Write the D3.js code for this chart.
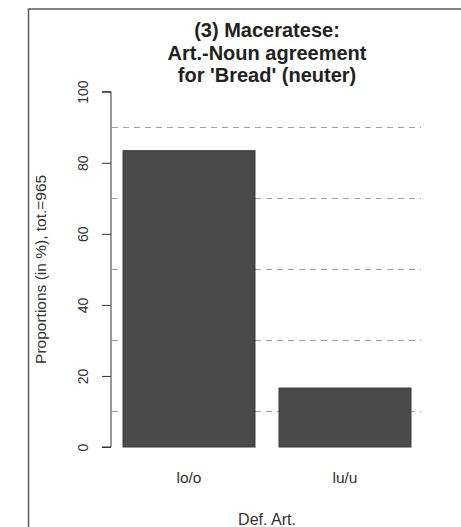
<!DOCTYPE html>
<html>
<head>
<meta charset="utf-8">
<script src="https://cdn.jsdelivr.net/npm/d3@7"></script>
<style>
  html, body { margin: 0; padding: 0; background: #fff; }
  svg { display: block; font-family: "Liberation Sans", Arial, sans-serif; }
</style>
</head>
<body>
<svg id="chart" width="461" height="527"></svg>
<script>
// Definite-article forms and their share (in %) of all 965 tokens
const categories = ["lo/o", "lu/u"];
const proportions = [83.4, 16.6];
const yTicks = [0, 20, 40, 60, 80, 100];
const gridValues = [10, 30, 50, 70, 90];
const titleLines = ["(3) Maceratese:", "Art.-Noun agreement", "for 'Bread' (neuter)"];
const yTitle = "Proportions (in %), tot.=965";
const xTitle = "Def. Art.";

const svg = d3.select("#chart");

// outer figure frame (open on the right and bottom)
svg.append("rect")
  .attr("x", 28.5).attr("y", 9)
  .attr("width", 460).attr("height", 540)
  .attr("fill", "none").attr("stroke", "#5a5a5a").attr("stroke-width", 1.5);

const x = d3.scaleBand()
  .domain(categories)
  .range([111, 423])
  .paddingInner(0.154)
  .paddingOuter(0.077);

const y = d3.scaleLinear().domain([0, 100]).range([447, 91.7]);

// dashed reference lines behind the bars
svg.append("g").selectAll("line")
  .data(gridValues).join("line")
  .attr("x1", 112).attr("x2", 421)
  .attr("y1", d => Math.round(y(d)) + 0.5).attr("y2", d => Math.round(y(d)) + 0.5)
  .attr("stroke", "#a0a0a0").attr("stroke-width", 1)
  .attr("stroke-dasharray", "6,5");

// bars
svg.append("g").selectAll("rect")
  .data(categories).join("rect")
  .attr("x", d => x(d))
  .attr("y", (d, i) => y(proportions[i]))
  .attr("width", x.bandwidth())
  .attr("height", (d, i) => y(0) - y(proportions[i]))
  .attr("fill", "#4a4a4a")
  .attr("stroke", "#3a3a3a").attr("stroke-width", 1);

// y axis
const yAxis = d3.axisLeft(y).tickValues(yTicks).tickSize(9).tickPadding(10);
const gy = svg.append("g").attr("transform", "translate(111,0)").call(yAxis);
gy.select(".domain").attr("stroke", "#333").attr("d", `M-9,${y(100)}H0V${y(0)}H-9`);
gy.selectAll(".tick line").attr("stroke", "#333");
gy.selectAll(".tick text")
  .attr("font-size", 14).attr("fill", "#333")
  .attr("text-anchor", "middle")
  .attr("x", null).attr("dy", null)
  .attr("transform", "translate(-23,0) rotate(-90)");

// category labels
svg.append("g").selectAll("text")
  .data(categories).join("text")
  .attr("x", d => x(d) + x.bandwidth() / 2)
  .attr("y", 483)
  .attr("text-anchor", "middle")
  .attr("font-size", 15.5).attr("fill", "#333")
  .text(d => d);

// axis titles
svg.append("text")
  .attr("transform", `translate(46,${(y(0) + y(100)) / 2}) rotate(-90)`)
  .attr("text-anchor", "middle")
  .attr("font-size", 15.5).attr("fill", "#333")
  .text(yTitle);

svg.append("text")
  .attr("x", 267).attr("y", 525)
  .attr("text-anchor", "middle")
  .attr("font-size", 16).attr("fill", "#333")
  .text(xTitle);

// title
svg.append("g").selectAll("text")
  .data(titleLines).join("text")
  .attr("x", 267)
  .attr("y", (d, i) => 37 + i * 22.5)
  .attr("text-anchor", "middle")
  .attr("font-size", 20).attr("font-weight", "bold").attr("fill", "#222")
  .text(d => d);
</script>
</body>
</html>
